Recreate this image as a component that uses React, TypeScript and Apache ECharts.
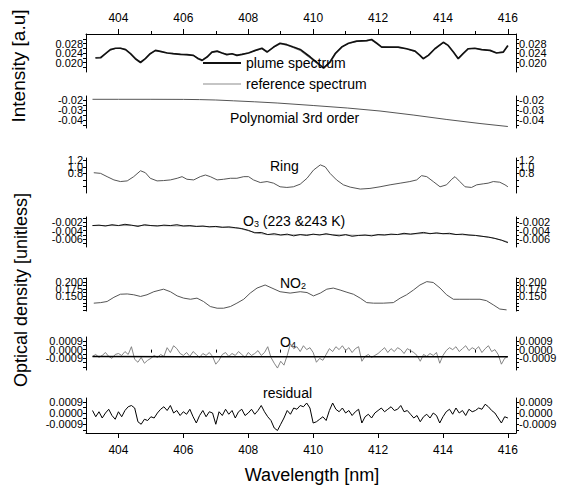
import React, { useEffect, useRef } from "react";
import * as echarts from "echarts";

const FONT = "'Liberation Sans', Arial, sans-serif";

// ---------- x axis (wavelength, nm) ----------
const X_MIN = 403;
const X_MAX = 416.25;
const majorWl = [404, 406, 408, 410, 412, 414, 416];
const minorWl = [405, 407, 409, 411, 413, 415];

// ---------- panel 1 : intensity ----------
const intensityWl = [403.29, 403.45, 403.6, 403.75, 403.91, 404.06, 404.22, 404.37, 404.52, 404.68, 404.83, 404.98,
  405.14, 405.29, 405.5, 405.69, 405.91, 406.11, 406.31, 406.46, 406.58, 406.73, 406.88, 407.04, 407.19, 407.34,
  407.5, 407.65, 407.81, 408.01, 408.22, 408.42, 408.58, 408.78, 408.98, 409.19, 409.39, 409.6, 409.91, 410.16,
  410.32, 410.52, 410.68, 410.88, 411.09, 411.34, 411.65, 411.8, 411.96, 412.11, 412.37, 412.62, 412.88, 413.14,
  413.29, 413.39, 413.55, 413.75, 414.01, 414.16, 414.32, 414.47, 414.62, 414.78, 414.98, 415.19, 415.45, 415.65,
  415.86, 416.0];
const plumeSpectrum = [0.0219, 0.0220, 0.0237, 0.0254, 0.0260, 0.0260, 0.0254, 0.0237, 0.0216, 0.0200, 0.0216, 0.0237,
  0.0251, 0.0247, 0.0240, 0.0237, 0.0234, 0.0233, 0.0230, 0.0216, 0.0209, 0.0223, 0.0244, 0.0248, 0.0240, 0.0233,
  0.0237, 0.0230, 0.0234, 0.0240, 0.0251, 0.0260, 0.0244, 0.0265, 0.0281, 0.0275, 0.0265, 0.0255, 0.0223, 0.0195,
  0.0176, 0.0202, 0.0237, 0.0265, 0.0281, 0.0290, 0.0292, 0.0297, 0.0281, 0.0265, 0.0265, 0.0265, 0.0258, 0.0248,
  0.0230, 0.0216, 0.0230, 0.0258, 0.0285, 0.0272, 0.0244, 0.0216, 0.0237, 0.0258, 0.0260, 0.0254, 0.0251, 0.0240,
  0.0244, 0.0272];
const referenceSpectrum = [0.0221, 0.0222, 0.0236, 0.0252, 0.0259, 0.0261, 0.0255, 0.0239, 0.0218, 0.0203, 0.0218, 0.0238,
  0.0249, 0.0246, 0.0241, 0.0236, 0.0235, 0.0232, 0.0229, 0.0218, 0.0212, 0.0225, 0.0242, 0.0246, 0.0241, 0.0235,
  0.0236, 0.0232, 0.0235, 0.0241, 0.0250, 0.0257, 0.0247, 0.0263, 0.0278, 0.0273, 0.0262, 0.0250, 0.0218, 0.0190,
  0.0180, 0.0205, 0.0240, 0.0266, 0.0280, 0.0288, 0.0291, 0.0294, 0.0280, 0.0266, 0.0264, 0.0263, 0.0257, 0.0246,
  0.0229, 0.0218, 0.0232, 0.0257, 0.0283, 0.0271, 0.0245, 0.0219, 0.0238, 0.0257, 0.0259, 0.0255, 0.0250, 0.0241,
  0.0245, 0.0268];

// ---------- panel 2 : polynomial ----------
const polyWl = [403.2, 404, 405, 406, 406.5, 407, 407.54, 408.2, 408.89, 410, 411.05, 412.06, 413.08, 414.12, 415.14, 416];
const polyVal = [-0.0193, -0.0193, -0.0193, -0.0194, -0.0196, -0.0200, -0.0208, -0.0218, -0.0230, -0.0255, -0.0280,
  -0.0310, -0.0350, -0.0395, -0.0435, -0.0465];

// ---------- panel 3 : Ring ----------
const ringWl = [403.24, 403.45, 403.65, 403.86, 404.06, 404.27, 404.47, 404.68, 404.83, 404.98, 405.19, 405.39, 405.6,
  405.81, 405.96, 406.11, 406.32, 406.52, 406.68, 406.83, 407.04, 407.24, 407.45, 407.65, 407.86, 408.01, 408.16,
  408.37, 408.58, 408.78, 408.98, 409.19, 409.39, 409.6, 409.81, 410.01, 410.22, 410.37, 410.52, 410.72, 410.93,
  411.14, 411.45, 411.75, 412.06, 412.37, 412.68, 412.98, 413.19, 413.34, 413.5, 413.7, 413.91, 414.11, 414.27,
  414.37, 414.52, 414.68, 414.88, 415.04, 415.24, 415.39, 415.55, 415.75, 415.91, 416.0];
const ringVal = [0.82, 0.80, 0.70, 0.60, 0.55, 0.57, 0.70, 0.88, 0.82, 0.65, 0.57, 0.58, 0.60, 0.65, 0.70, 0.62, 0.60,
  0.70, 0.75, 0.70, 0.60, 0.62, 0.65, 0.65, 0.70, 0.70, 0.60, 0.52, 0.55, 0.50, 0.39, 0.37, 0.39, 0.47, 0.65, 0.90,
  1.06, 1.00, 0.80, 0.60, 0.45, 0.38, 0.32, 0.34, 0.39, 0.45, 0.50, 0.55, 0.60, 0.73, 0.70, 0.55, 0.39, 0.45, 0.62,
  0.70, 0.55, 0.39, 0.37, 0.45, 0.48, 0.50, 0.55, 0.53, 0.45, 0.39];

// ---------- panel 4 : O3 ----------
const o3FitWl = [403.2, 404, 405, 406, 407, 407.7, 408, 408.3, 408.6, 409, 410, 410.5, 411, 411.5, 412, 412.5, 413,
  413.5, 414, 414.5, 415, 415.5, 416];
const o3FitVal = [-0.0028, -0.0028, -0.0028, -0.0029, -0.0031, -0.0034, -0.0040, -0.0046, -0.0049, -0.0050, -0.0049,
  -0.0049, -0.0050, -0.0051, -0.0050, -0.0049, -0.0048, -0.0046, -0.0047, -0.0049, -0.0051, -0.0056, -0.0066];
const o3MeasStart = 403.2;
const o3MeasStep = 0.2;
// measured O3 optical density, in units of 1e-4
const o3Meas = [-28, -27, -29, -26, -28, -25, -27, -30, -26, -28, -29, -27, -28, -26, -29, -28, -30, -29, -31, -30,
  -32, -31, -33, -35, -39, -45, -44, -49, -47, -50, -48, -52, -49, -51, -48, -50, -47, -50, -52, -49, -53, -51, -50,
  -52, -49, -50, -48, -49, -46, -48, -46, -44, -47, -45, -47, -46, -49, -48, -50, -51, -53, -55, -58, -62, -68];

// ---------- panel 5 : NO2 ----------
const no2Wl = [403.24, 403.45, 403.65, 403.86, 404.06, 404.27, 404.47, 404.68, 404.88, 405.09, 405.39, 405.6, 405.81,
  406.01, 406.22, 406.42, 406.62, 406.83, 407.04, 407.24, 407.45, 407.65, 407.86, 408.06, 408.27, 408.52, 408.73,
  408.98, 409.29, 409.6, 409.81, 410.01, 410.22, 410.42, 410.62, 410.83, 411.04, 411.24, 411.45, 411.65, 411.86,
  412.16, 412.47, 412.68, 412.88, 413.09, 413.29, 413.5, 413.7, 413.91, 414.11, 414.32, 414.52, 414.83, 415.14,
  415.34, 415.55, 415.75, 415.96];
const no2Val = [0.124, 0.126, 0.130, 0.145, 0.156, 0.157, 0.154, 0.148, 0.154, 0.165, 0.174, 0.165, 0.150, 0.142,
  0.138, 0.142, 0.130, 0.112, 0.106, 0.106, 0.112, 0.124, 0.138, 0.160, 0.178, 0.189, 0.178, 0.165, 0.160, 0.165,
  0.162, 0.150, 0.160, 0.174, 0.178, 0.171, 0.163, 0.156, 0.142, 0.126, 0.124, 0.124, 0.126, 0.142, 0.154, 0.171,
  0.189, 0.201, 0.198, 0.178, 0.154, 0.138, 0.138, 0.138, 0.138, 0.133, 0.118, 0.103, 0.100];

// ---------- panel 6 : O4 ----------
const o4FitWl = [403.2, 406, 409, 412, 416];
const o4FitVal = [-0.00072, -0.00073, -0.00073, -0.00074, -0.00074];
const o4MeasStart = 403.2;
const o4MeasStep = 0.1;
// measured O4 optical density, in units of 1e-4
const o4Meas = [-7, -5, -8, -6, -3, -7, -9, -5, -4, -6, -2, -5, 3, -10, -13, -8, -14, -11, -9, -6, -8, -5, -7, 2, -3,
  4, 1, -4, -6, -3, -7, -2, -5, -8, -4, -6, -3, -7, -15, -11, -5, -3, -7, -4, -6, -2, -5, -8, -3, -6, -4, -1, -6, -3,
  3, -8, -14, -19, -12, -16, -6, 6, 1, 3, -2, 4, 0, 2, -3, -13, -9, -11, -5, 1, -2, 3, 0, 4, -1, 2, -3, 1, 3, -12,
  -7, -5, -8, -6, -4, -1, 2, -3, 1, -2, 2, 0, -4, 1, -1, -3, -6, -12, -5, -7, -4, -6, -3, -14, -6, -1, 2, 0, 3, -2,
  1, 4, -1, 2, 0, 3, -3, 1, 4, -2, 0, -5, -15, -9, -7];

// ---------- panel 7 : residual ----------
const resStart = 403.2;
const resStep = 0.1;
// residual, in units of 1e-4
const residual = [2, -3, 1, -4, 0, 3, -2, -5, 1, -3, 2, 5, 6, 4, -7, -9, -5, -6, -3, -4, 0, 3, 5, 2, 6, 0, 2, -2, 1,
  -1, 3, -3, -8, -2, 2, -3, 1, 0, -9, 1, -2, 3, -1, 2, -4, 1, 3, -2, 0, 3, -1, 2, 6, 1, -3, -6, -12, -14, -9, -4, 2,
  -1, 4, 3, 6, 5, 8, 4, -8, -7, -5, -3, -6, 2, 8, 3, 1, 4, 0, 2, -2, 1, 3, -8, -3, -1, -4, 0, 2, 4, 1, 3, 5, 2, 3, 6,
  1, 2, -1, -4, -2, -7, -3, -1, -4, 0, -2, -8, -3, 1, 3, -1, 4, 0, 2, -2, 3, 1, 2, 4, 3, 7, 5, 2, 0, -4, -8, -3, -4];

// ---------- helpers ----------
const pairs = (xs: number[], ys: number[]) => xs.map((x, i) => [x, ys[i]]);
const sampled = (start: number, step: number, ys: number[], unit: number) =>
  ys.map((y, i) => [+(start + step * i).toFixed(3), y * unit]);

// grid layout (pixels)
const GRID_LEFT = 86;
const GRID_RIGHT = 53;
const grids = [
  { top: 34, height: 38 },
  { top: 96, height: 32 },
  { top: 158, height: 35 },
  { top: 217, height: 30 },
  { top: 278, height: 33 },
  { top: 337, height: 33 },
  { top: 398, height: 35 },
];

const yRanges = [
  { min: 0.016, max: 0.032, labels: [0.02, 0.024, 0.028], ticks: [0.018, 0.02, 0.022, 0.024, 0.026, 0.028, 0.03], dec: 3 },
  { min: -0.048, max: -0.016, labels: [-0.04, -0.03, -0.02], ticks: [-0.045, -0.04, -0.035, -0.03, -0.025, -0.02], dec: 2 },
  { min: 0.2, max: 1.27, labels: [0.8, 1.0, 1.2], ticks: [0.4, 0.6, 0.8, 1.0, 1.2], dec: 1 },
  { min: -0.0078, max: -0.0008, labels: [-0.006, -0.004, -0.002], ticks: [-0.007, -0.006, -0.005, -0.004, -0.003, -0.002, -0.001], dec: 3 },
  { min: 0.096, max: 0.214, labels: [0.15, 0.175, 0.2], ticks: [0.1, 0.1125, 0.125, 0.1375, 0.15, 0.1625, 0.175, 0.1875, 0.2, 0.2125], dec: 3 },
  { min: -0.0021, max: 0.0013, labels: [-0.0009, 0, 0.0009], ticks: [-0.0018, -0.00135, -0.0009, -0.00045, 0, 0.00045, 0.0009], dec: 4 },
  { min: -0.0016, max: 0.0012, labels: [-0.0009, 0, 0.0009], ticks: [-0.00135, -0.0009, -0.00045, 0, 0.00045, 0.0009], dec: 4 },
];

const Y_PER_GRID = 4; // left main, right main, left middle label, right middle label

function buildOption(): any {
  const gridOpts = grids.map((g) => ({ left: GRID_LEFT, right: GRID_RIGHT, top: g.top, height: g.height, containLabel: false }));

  const xAxes: any[] = grids.map((_, i) => {
    const base: any = { type: "value", gridIndex: i, min: X_MIN, max: X_MAX, splitLine: { show: false } };
    const lbl = { fontSize: 12, color: "#000", fontFamily: FONT, formatter: (v: number) => String(v),
      showMinLabel: true, showMaxLabel: true, hideOverlap: false };
    if (i === 0) {
      return { ...base, position: "top",
        axisLine: { show: true, onZero: false, lineStyle: { color: "#000", width: 1 } },
        axisTick: { show: true, inside: false, length: 5, customValues: majorWl, lineStyle: { color: "#000" } },
        axisLabel: { ...lbl, customValues: majorWl, margin: 10 } };
    }
    if (i === 6) {
      return { ...base, position: "bottom",
        axisLine: { show: true, onZero: false, lineStyle: { color: "#000", width: 1 } },
        axisTick: { show: true, inside: false, length: 5, customValues: majorWl, lineStyle: { color: "#000" } },
        axisLabel: { ...lbl, customValues: majorWl, margin: 11 } };
    }
    if (i === 1) {
      // minor ticks of the top axis
      return { ...base, position: "top", offset: grids[1].top - grids[0].top,
        axisLine: { show: false },
        axisTick: { show: true, inside: false, length: 3, customValues: minorWl, lineStyle: { color: "#000" } },
        axisLabel: { show: false } };
    }
    if (i === 5) {
      // minor ticks of the bottom axis
      const g5b = grids[5].top + grids[5].height;
      const g6b = grids[6].top + grids[6].height;
      return { ...base, position: "bottom", offset: g6b - g5b,
        axisLine: { show: false },
        axisTick: { show: true, inside: false, length: 3, customValues: minorWl, lineStyle: { color: "#000" } },
        axisLabel: { show: false } };
    }
    return { ...base, show: false };
  });

  const yAxes: any[] = [];
  yRanges.forEach((r, i) => {
    const fmt = (v: number) => (Math.abs(v) < 1e-12 ? 0 : v).toFixed(r.dec);
    const outer = [r.labels[0], r.labels[r.labels.length - 1]];
    const middle = r.labels.slice(1, -1);
    const labelStyle = { fontSize: 11, color: "#000", fontFamily: FONT, margin: 3,
      showMinLabel: true, showMaxLabel: true, hideOverlap: false, formatter: fmt };
    (["left", "right"] as const).forEach((pos) => {
      yAxes.push({
        type: "value", gridIndex: i, position: pos, min: r.min, max: r.max,
        splitLine: { show: false },
        axisLine: { show: true, onZero: false, lineStyle: { color: "#000", width: 1 } },
        axisTick: { show: true, inside: false, length: 3, customValues: r.ticks, lineStyle: { color: "#000" } },
        axisLabel: { show: true, customValues: outer, ...labelStyle },
      });
    });
    (["left", "right"] as const).forEach((pos) => {
      yAxes.push({
        type: "value", gridIndex: i, position: pos, min: r.min, max: r.max,
        splitLine: { show: false },
        axisLine: { show: false },
        axisTick: { show: false },
        axisLabel: { show: true, customValues: middle, ...labelStyle },
      });
    });
  });

  const line = (name: string, grid: number, data: any[], color: string, width: number, z = 2) => ({
    name, type: "line", xAxisIndex: grid, yAxisIndex: grid * Y_PER_GRID, data, symbol: "none", z,
    lineStyle: { color, width }, itemStyle: { color }, emphasis: { disabled: true },
  });

  const series = [
    line("reference spectrum", 0, pairs(intensityWl, referenceSpectrum), "#8c8c8c", 1, 2),
    line("plume spectrum", 0, pairs(intensityWl, plumeSpectrum), "#111", 1.7, 3),
    line("Polynomial 3rd order", 1, pairs(polyWl, polyVal), "#555", 1),
    line("Ring", 2, pairs(ringWl, ringVal), "#555", 1),
    line("O3 reference", 3, pairs(o3FitWl, o3FitVal), "#999", 1, 2),
    line("O3", 3, sampled(o3MeasStart, o3MeasStep, o3Meas, 1e-4), "#111", 1, 3),
    line("NO2", 4, pairs(no2Wl, no2Val), "#555", 1),
    line("O4", 5, sampled(o4MeasStart, o4MeasStep, o4Meas, 1e-4), "#777", 0.9, 2),
    line("O4 fit", 5, pairs(o4FitWl, o4FitVal), "#000", 1.5, 3),
    line("residual", 6, sampled(resStart, resStep, residual, 1e-4), "#000", 1),
  ];

  const rich = {
    n: { fontSize: 14, fontFamily: FONT, fill: "#000", lineHeight: 16, verticalAlign: "bottom" },
    s: { fontSize: 9, fontFamily: FONT, fill: "#000", lineHeight: 9, verticalAlign: "bottom" },
  };
  const txt = (text: string, x: number, y: number, fontSize = 14, useRich = false) => ({
    type: "text", x, y, silent: true,
    style: { text, fontSize, fontFamily: FONT, fill: "#000", align: "left", verticalAlign: "middle",
      ...(useRich ? { rich } : {}) },
  });

  const graphic = [
    txt("Polynomial 3rd order", 230, 118),
    txt("Ring", 270, 166),
    txt("{n|O}{s|3}{n| (223 &243 K)}", 243, 220, 14, true),
    txt("{n|NO}{s|2}", 280, 282, 14, true),
    txt("{n|O}{s|4}", 280, 341, 14, true),
    txt("residual", 263, 393),
    { type: "text", x: 18, y: 66, rotation: Math.PI / 2, silent: true,
      style: { text: "Intensity [a.u]", fontSize: 19, fontFamily: FONT, fill: "#000", align: "center", verticalAlign: "middle" } },
    { type: "text", x: 21, y: 290, rotation: Math.PI / 2, silent: true,
      style: { text: "Optical density [unitless]", fontSize: 18, fontFamily: FONT, fill: "#000", align: "center", verticalAlign: "middle" } },
    { type: "text", x: 312, y: 475, silent: true,
      style: { text: "Wavelength [nm]", fontSize: 18, fontFamily: FONT, fill: "#000", align: "center", verticalAlign: "middle" } },
  ];

  return {
    animation: false,
    backgroundColor: "#fff",
    textStyle: { fontFamily: FONT },
    legend: {
      data: [
        { name: "plume spectrum", icon: "path://M0,0H38V2H0Z", itemStyle: { color: "#111" } },
        { name: "reference spectrum", icon: "path://M0,0H38V1H0Z", itemStyle: { color: "#8c8c8c" } },
      ],
      orient: "vertical", left: 203, top: 56, itemWidth: 38, itemHeight: 14, itemGap: 7,
      selectedMode: false, padding: 0,
      textStyle: { fontSize: 14, color: "#000", fontFamily: FONT },
    },
    grid: gridOpts,
    xAxis: xAxes,
    yAxis: yAxes,
    series,
    graphic,
  };
}

export default function App() {
  const ref = useRef<HTMLDivElement>(null);
  useEffect(() => {
    document.body.style.margin = "0";
    if (!ref.current) return;
    const chart = echarts.init(ref.current, undefined, { renderer: "svg" });
    chart.setOption(buildOption());
    return () => chart.dispose();
  }, []);
  return <div ref={ref} style={{ width: 569, height: 490, position: "fixed", left: 0, top: 0, background: "#fff" }} />;
}
